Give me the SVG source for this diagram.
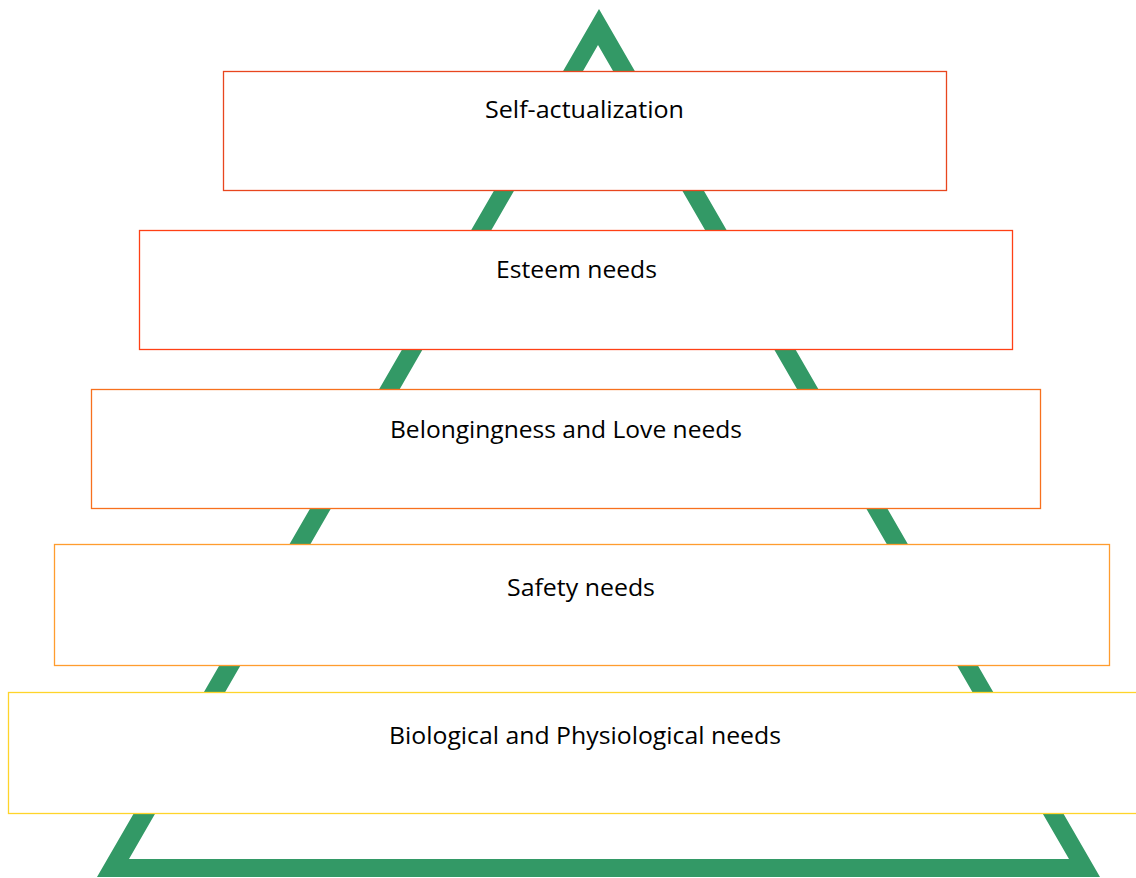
<svg xmlns="http://www.w3.org/2000/svg" width="1136" height="878" viewBox="0 0 1136 878">
  <style>
    .level { fill: #ffffff; stroke-width: 1.3; }
    .label { font-family: "Open Sans", "Noto Sans", "Liberation Sans", sans-serif; font-size: 23px; fill: #000000; text-anchor: middle; }
  </style>
  <rect width="1136" height="878" fill="#ffffff"/>

  <!-- pyramid outline behind the levels -->
  <g id="pyramid">
    <path d="M599,9 L1100,877 L97,877 Z M598,45 L129,859 L1069,859 Z" fill="#339966" fill-rule="evenodd"/>
  </g>

  <g id="connectors"></g>

  <g id="self-actualization">
    <rect class="level" x="223.5" y="71.5" width="723" height="119" stroke="#E8461E"/>
    <text class="label" x="584.5" y="118" textLength="199" lengthAdjust="spacingAndGlyphs">Self-actualization</text>
  </g>

  <g id="esteem">
    <rect class="level" x="139.5" y="230.5" width="873" height="119" stroke="#FF4015"/>
    <text class="label" x="576.5" y="278" textLength="161" lengthAdjust="spacingAndGlyphs">Esteem needs</text>
  </g>

  <g id="belongingness">
    <rect class="level" x="91.5" y="389.5" width="949" height="119" stroke="#F7701E"/>
    <text class="label" x="566" y="438" textLength="352" lengthAdjust="spacingAndGlyphs">Belongingness and Love needs</text>
  </g>

  <g id="safety">
    <rect class="level" x="54.5" y="544.5" width="1055" height="121" stroke="#FF9C2E"/>
    <text class="label" x="581" y="596" textLength="148" lengthAdjust="spacingAndGlyphs">Safety needs</text>
  </g>

  <g id="biological">
    <rect class="level" x="8.5" y="692.5" width="1140" height="121" stroke="#FFD42A"/>
    <text class="label" x="585" y="744" textLength="392" lengthAdjust="spacingAndGlyphs">Biological and Physiological needs</text>
  </g>
</svg>
